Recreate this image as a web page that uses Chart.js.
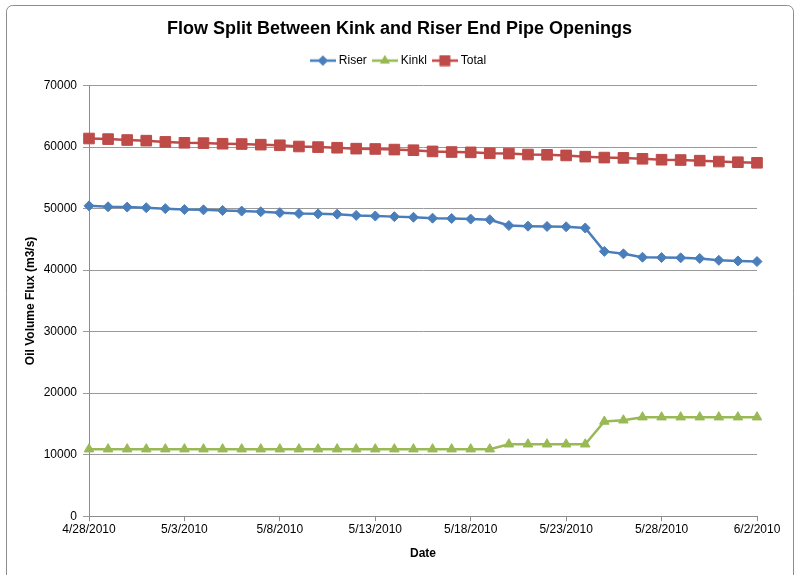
<!DOCTYPE html>
<html>
<head>
<meta charset="utf-8">
<script src="https://cdn.jsdelivr.net/npm/chart.js@4.4.1/dist/chart.umd.min.js"></script>
<style>
  html, body { margin: 0; padding: 0; background: #fff; }
  #wrap { width: 799px; height: 575px; position: relative; }
</style>
</head>
<body>
<div id="wrap"><canvas id="c" width="799" height="575"></canvas></div>
<script>
  // daily samples, 4/28/2010 .. 6/2/2010
  const dates = [
    "4/28/2010", "4/29/2010", "4/30/2010", "5/1/2010", "5/2/2010", "5/3/2010",
    "5/4/2010", "5/5/2010", "5/6/2010", "5/7/2010", "5/8/2010", "5/9/2010",
    "5/10/2010", "5/11/2010", "5/12/2010", "5/13/2010", "5/14/2010", "5/15/2010",
    "5/16/2010", "5/17/2010", "5/18/2010", "5/19/2010", "5/20/2010", "5/21/2010",
    "5/22/2010", "5/23/2010", "5/24/2010", "5/25/2010", "5/26/2010", "5/27/2010",
    "5/28/2010", "5/29/2010", "5/30/2010", "5/31/2010", "6/1/2010", "6/2/2010"
  ];
  const riser = [
    50450, 50300, 50250, 50150, 50000, 49850, 49800, 49700, 49600, 49500, 49350, 49200,
    49150, 49100, 48900, 48800, 48700, 48600, 48450, 48400, 48300, 48200, 47250, 47150,
    47100, 47050, 46850, 43050, 42650, 42100, 42050, 42000, 41900, 41600, 41500, 41400
  ];
  const kinkl = [
    10900, 10900, 10900, 10900, 10900, 10900, 10900, 10900, 10900, 10900, 10900, 10900,
    10900, 10900, 10900, 10900, 10900, 10900, 10900, 10900, 10900, 10900, 11700, 11700,
    11700, 11700, 11700, 15400, 15600, 16100, 16100, 16100, 16100, 16100, 16100, 16100
  ];
  const total = [
    61400, 61300, 61150, 61050, 60850, 60700, 60650, 60550, 60500, 60400, 60300, 60100,
    60000, 59900, 59750, 59700, 59600, 59500, 59300, 59200, 59150, 59000, 58950, 58800,
    58750, 58650, 58450, 58300, 58250, 58100, 57950, 57900, 57800, 57650, 57550, 57450
  ];
  const yTicks = { min: 0, max: 70000, step: 10000 };

  const FONT = "'Liberation Sans', 'DejaVu Sans', sans-serif";
  const BLUE = "#4a7ebb", GREEN = "#98b954", RED = "#be4b48";

  // legend swatch: short line with the series marker in the middle
  function swatch(color, style, r) {
    const cv = document.createElement("canvas");
    cv.width = 26; cv.height = 12;
    const g = cv.getContext("2d");
    g.strokeStyle = color; g.lineWidth = 2.5;
    g.beginPath(); g.moveTo(0, 6); g.lineTo(26, 6); g.stroke();
    g.fillStyle = color;
    Chart.helpers.drawPoint(g, { pointStyle: style, radius: r, borderWidth: 0 }, 13, 6);
    g.fill();
    return cv;
  }

  function series(label, data, color, style, r) {
    return {
      label, data, borderColor: color, backgroundColor: color,
      borderWidth: 2.5, tension: 0,
      pointStyle: style, pointRadius: r, pointHoverRadius: r,
      pointBorderColor: color, pointBackgroundColor: color, pointBorderWidth: 1,
      legendImg: swatch(color, style, r),
    };
  }

  // thin rounded frame round the whole chart
  const frame = {
    id: "frame",
    beforeDraw(chart) {
      const g = chart.ctx;
      g.save();
      g.strokeStyle = "#8c8c8c"; g.lineWidth = 1;
      g.beginPath();
      g.roundRect(6.5, 5.5, 787, 600, 6);
      g.stroke();
      g.restore();
    },
  };

  // empty boxes used only as spacers around the plot area
  const spacer = (pos, type, size) => ({
    type, position: pos, display: true,
    grid: { display: false }, border: { display: false }, ticks: { display: false },
    afterFit(s) { if (pos === "top") s.height = size; else s.width = size; },
  });

  new Chart(document.getElementById("c"), {
    type: "line",
    data: {
      labels: dates,
      datasets: [
        series("Riser", riser, BLUE, "rectRot", 5),
        series("Kinkl", kinkl, GREEN, "triangle", 5.5),
        series("Total", total, RED, "rect", 7.5),
      ],
    },
    options: {
      responsive: false, animation: false,
      layout: { padding: { left: 8, right: 8, top: 0, bottom: 11 } },
      plugins: {
        title: {
          display: true, text: "Flow Split Between Kink and Riser End Pipe Openings",
          color: "#000", font: { family: FONT, size: 18, weight: "bold" },
          padding: { top: 18, bottom: 7 },
        },
        legend: {
          labels: {
            color: "#000", font: { family: FONT, size: 12 },
            usePointStyle: true, pointStyleWidth: 20, padding: 8,
            generateLabels(chart) {
              return chart.data.datasets.map((d, i) => ({
                text: d.label, pointStyle: d.legendImg, fontColor: "#000",
                datasetIndex: i, lineWidth: 0, hidden: false,
              }));
            },
          },
        },
        tooltip: { enabled: false },
      },
      scales: {
        x: {
          type: "category", offset: false,
          grid: { display: true, drawOnChartArea: false, drawTicks: true, tickLength: 5, color: "#8c8c8c" },
          border: { color: "#8c8c8c" },
          ticks: {
            autoSkip: false, maxRotation: 0, color: "#000", padding: 1,
            font: { family: FONT, size: 12 },
            callback: (v, i) => (i % 5 === 0 ? dates[i] : null),
          },
          title: { display: true, text: "Date", color: "#000", font: { family: FONT, size: 12, weight: "bold" }, padding: { top: 9, bottom: 3 } },
        },
        xTop: spacer("top", "category", 9),
        y: {
          min: yTicks.min, max: yTicks.max,
          afterFit(scale) { scale.width = 81; },
          grid: { color: "#9a9a9a", tickLength: 6 },
          border: { color: "#8c8c8c" },
          ticks: { stepSize: yTicks.step, color: "#000", padding: 6, font: { family: FONT, size: 12 }, callback: (v) => String(v) },
          title: { display: true, text: "Oil Volume Flux (m3/s)", color: "#000", font: { family: FONT, size: 12, weight: "bold" }, padding: { top: 15, bottom: 4 } },
        },
        yRight: spacer("right", "linear", 34),
      },
    },
    plugins: [frame],
  });
</script>
</body>
</html>
